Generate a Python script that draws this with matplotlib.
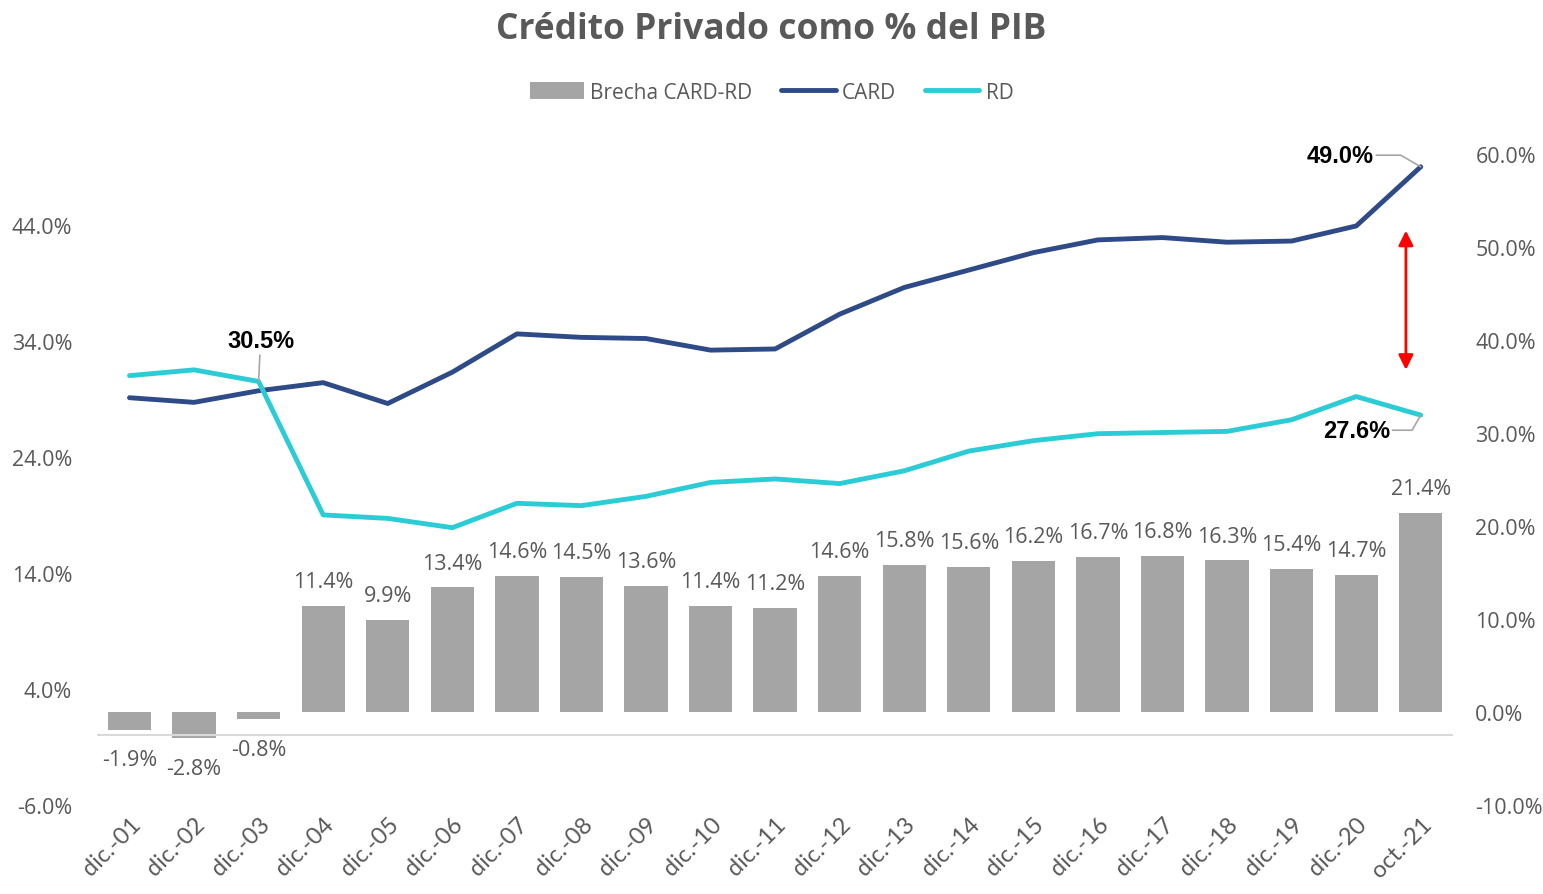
import numpy as np
import matplotlib.pyplot as plt

# Datos
periodos = ['dic.-01', 'dic.-02', 'dic.-03', 'dic.-04', 'dic.-05', 'dic.-06', 'dic.-07',
            'dic.-08', 'dic.-09', 'dic.-10', 'dic.-11', 'dic.-12', 'dic.-13', 'dic.-14',
            'dic.-15', 'dic.-16', 'dic.-17', 'dic.-18', 'dic.-19', 'dic.-20', 'oct.-21']
card = [29.1, 28.7, 29.7, 30.4, 28.6, 31.3, 34.6, 34.3, 34.2, 33.2, 33.3,
        36.3, 38.6, 40.1, 41.6, 42.7, 42.9, 42.5, 42.6, 43.9, 49.0]
rd = [31.0, 31.5, 30.5, 19.0, 18.7, 17.9, 20.0, 19.8, 20.6, 21.8, 22.1,
      21.7, 22.8, 24.5, 25.4, 26.0, 26.1, 26.2, 27.2, 29.2, 27.6]
brecha = [-1.9, -2.8, -0.8, 11.4, 9.9, 13.4, 14.6, 14.5, 13.6, 11.4, 11.2,
          14.6, 15.8, 15.6, 16.2, 16.7, 16.8, 16.3, 15.4, 14.7, 21.4]
left_ticks = [-6, 4, 14, 24, 34, 44]
right_ticks = [-10, 0, 10, 20, 30, 40, 50, 60]

GRIS = '#595959'
C_BAR = '#A5A5A5'
C_CARD = '#2E4B87'
C_RD = '#2BCCD6'
FONT = ['Open Sans', 'DejaVu Sans']

plt.rcParams['font.family'] = FONT

fig = plt.figure(figsize=(15.43, 8.95), dpi=100)
ax = fig.add_axes([0.063, 0.0994, 0.8787, 0.7274])
ax2 = ax.twinx()

x = np.arange(len(periodos))

# barras en eje secundario
ax2.bar(x, brecha, width=0.67, color=C_BAR, zorder=2, label='Brecha CARD-RD')
ax2.set_ylim(-10, 60)
ax2.set_yticks(right_ticks)
ax2.set_yticklabels([f'{v:.1f}%' for v in right_ticks])
for i, v in enumerate(brecha):
    if v >= 0:
        ax2.annotate(f'{v:.1f}%', (i, v), xytext=(0, 10), textcoords='offset points',
                     ha='center', va='bottom', fontsize=15.5, color=GRIS)
    else:
        ax2.annotate(f'{v:.1f}%', (i, v), xytext=(0, -14), textcoords='offset points',
                     ha='center', va='top', fontsize=15.5, color=GRIS)

# lineas en eje primario
ax.set_zorder(ax2.get_zorder() + 1)
ax.patch.set_visible(False)
ax.plot(x, card, color=C_CARD, lw=3.5, solid_capstyle='round', label='CARD')
ax.plot(x, rd, color=C_RD, lw=3.5, solid_capstyle='round', label='RD')
ax.axhline(0, color='#D9D9D9', lw=1.5, zorder=0)
ax.set_ylim(-6, 50.1)
ax.set_xlim(-0.5, len(periodos) - 0.5)
ax.set_yticks(left_ticks)
ax.set_yticklabels([f'{v:.1f}%' for v in left_ticks])

for a in (ax, ax2):
    for s in a.spines.values():
        s.set_visible(False)
    a.tick_params(length=0, labelsize=15.5, labelcolor=GRIS)
ax.tick_params(axis='y', pad=18)
ax2.tick_params(axis='y', pad=16)
ax.tick_params(axis='x', pad=6)

ax.set_xticks(x)
ax.set_xticklabels(periodos, rotation=45, ha='right', rotation_mode='anchor',
                   fontsize=17, color=GRIS, family=['Lato', 'DejaVu Sans'])

# etiquetas destacadas
lbl = dict(fontsize=17, fontweight='bold', color='black', family=['Liberation Sans', 'DejaVu Sans'])
arr = dict(arrowstyle='-', color='#A6A6A6', lw=1.2, shrinkA=0, shrinkB=0)
ax.annotate('30.5%', (2, rd[2]), xytext=(2.03, 34.0), ha='center', va='center',
            arrowprops=arr, **lbl)
ax.annotate('49.0%', (20, card[20]), xytext=(18.75, 50.0), ha='center', va='center',
            arrowprops=dict(arr, connectionstyle='angle,angleA=0,angleB=-30,rad=0'), **lbl)
ax.annotate('27.6%', (20, rd[20]), xytext=(19.0, 26.3), ha='center', va='center',
            arrowprops=dict(arr, connectionstyle='angle,angleA=0,angleB=60,rad=0'), **lbl)

# flecha roja de brecha
ax.annotate('', xy=(19.77, 43.5), xytext=(19.77, 31.5),
            arrowprops=dict(arrowstyle='<|-|>', color='red', lw=2, mutation_scale=22,
                            shrinkA=0, shrinkB=0))

fig.suptitle('Crédito Privado como % del PIB', y=0.987, fontsize=25.5, fontweight='bold',
             color=GRIS)

h2, l2 = ax2.get_legend_handles_labels()
h1, l1 = ax.get_legend_handles_labels()
fig.legend(h2 + h1, l2 + l1, loc='center', bbox_to_anchor=(0.5, 0.896), ncol=3,
           frameon=False, fontsize=15, labelcolor=GRIS, handlelength=2.6,
           handletextpad=0.3, columnspacing=1.4, handleheight=0.9)

plt.savefig('out.png', dpi=100)
